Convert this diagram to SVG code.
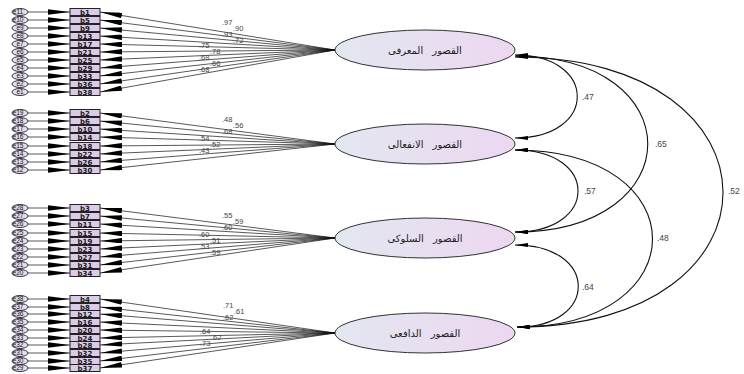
<svg xmlns="http://www.w3.org/2000/svg" width="744" height="374" viewBox="0 0 744 374">
  <style>
    .err ellipse { fill: #e5daf0; stroke: #222; stroke-width: 0.9; }
    .err text { font-family: "Liberation Sans", Arial, sans-serif; font-size: 6.5px; fill: #111; text-anchor: middle; }
    .item rect { fill: #dccbe8; stroke: #222; stroke-width: 1; }
    .item text { font-family: "DejaVu Sans", sans-serif; font-size: 7px; font-weight: bold; fill: #1a1a1a; text-anchor: middle; }
    .factor ellipse { fill: url(#fgrad); stroke: #333; stroke-width: 1; }
    .factor text { font-family: "DejaVu Sans", "Noto Sans", sans-serif; font-size: 10px; word-spacing: 6px; fill: #222; text-anchor: middle; }
    .ln { stroke: #111; stroke-width: 0.7; fill: none; }
    .arc { stroke: #111; stroke-width: 1.1; fill: none; marker-start: url(#head); marker-end: url(#head); }
    .w { font-family: "Liberation Sans", Arial, sans-serif; font-size: 7.5px; fill: #444; }
    .r { font-family: "Liberation Sans", Arial, sans-serif; font-size: 8.5px; fill: #444; }
  </style>
  <defs>
    <linearGradient id="fgrad" x1="0" y1="0" x2="1" y2="0">
      <stop offset="0" stop-color="#e3e7f0"/>
      <stop offset="1" stop-color="#ecd7f1"/>
    </linearGradient>
    <marker id="wedge" markerUnits="userSpaceOnUse" viewBox="0 0 22 5.5" markerWidth="22" markerHeight="5.5" refX="22" refY="2.75" orient="auto">
      <path d="M0,0 L22,2.75 L0,5.5 z" fill="#000"/>
    </marker>
    <marker id="head" markerUnits="userSpaceOnUse" viewBox="0 0 13 4" markerWidth="13" markerHeight="4" refX="13" refY="2" orient="auto-start-reverse">
      <path d="M0,0 L13,2 L0,4 z" fill="#000"/>
    </marker>
  </defs>

  <rect width="744" height="374" fill="#fff"/>

  <!-- connectors -->
  <g id="connectors">
    <!-- error to item -->
    <g class="ln" marker-end="url(#wedge)">
      <path d="M28,12 H70"/><path d="M28,20 H70"/><path d="M28,28 H70"/><path d="M28,36 H70"/>
      <path d="M28,44 H70"/><path d="M28,52 H70"/><path d="M28,60 H70"/><path d="M28,68 H70"/>
      <path d="M28,76 H70"/><path d="M28,84 H70"/><path d="M28,92 H70"/>
      <path d="M28,113 H70"/><path d="M28,121 H70"/><path d="M28,129 H70"/><path d="M28,137 H70"/>
      <path d="M28,146 H70"/><path d="M28,154 H70"/><path d="M28,162 H70"/><path d="M28,170 H70"/>
      <path d="M28,208 H70"/><path d="M28,216 H70"/><path d="M28,224 H70"/><path d="M28,233 H70"/>
      <path d="M28,241 H70"/><path d="M28,249 H70"/><path d="M28,257 H70"/><path d="M28,265 H70"/>
      <path d="M28,273 H70"/>
      <path d="M28,299 H70"/><path d="M28,307 H70"/><path d="M28,314 H70"/><path d="M28,322 H70"/>
      <path d="M28,330 H70"/><path d="M28,338 H70"/><path d="M28,345 H70"/><path d="M28,353 H70"/>
      <path d="M28,361 H70"/><path d="M28,368 H70"/>
    </g>
    <!-- factor loadings -->
    <g class="ln" marker-end="url(#wedge)">
      <path d="M335,50 L100,12"/><path d="M335,50 L100,20"/><path d="M335,50 L100,28"/><path d="M335,50 L100,36"/>
      <path d="M335,50 L100,44"/><path d="M335,50 L100,52"/><path d="M335,50 L100,60"/><path d="M335,50 L100,68"/>
      <path d="M335,50 L100,76"/><path d="M335,50 L100,84"/><path d="M335,50 L100,92"/>
      <path d="M335,144 L100,113"/><path d="M335,144 L100,121"/><path d="M335,144 L100,129"/><path d="M335,144 L100,137"/>
      <path d="M335,144 L100,146"/><path d="M335,144 L100,154"/><path d="M335,144 L100,162"/><path d="M335,144 L100,170"/>
      <path d="M335,238 L100,208"/><path d="M335,238 L100,216"/><path d="M335,238 L100,224"/><path d="M335,238 L100,233"/>
      <path d="M335,238 L100,241"/><path d="M335,238 L100,249"/><path d="M335,238 L100,257"/><path d="M335,238 L100,265"/>
      <path d="M335,238 L100,273"/>
      <path d="M335,333 L100,299"/><path d="M335,333 L100,307"/><path d="M335,333 L100,314"/><path d="M335,333 L100,322"/>
      <path d="M335,333 L100,330"/><path d="M335,333 L100,338"/><path d="M335,333 L100,345"/><path d="M335,333 L100,353"/>
      <path d="M335,333 L100,361"/><path d="M335,333 L100,368"/>
    </g>
    <!-- loading values, staggered so neighbours stay readable -->
    <g class="w">
      <text x="222" y="25">.97</text><text x="233" y="31">.90</text><text x="222" y="37">.93</text><text x="233" y="43">.72</text>
      <text x="199" y="48">.75</text><text x="210" y="54">.78</text><text x="199" y="60">.68</text><text x="210" y="66">.66</text><text x="199" y="72">.68</text>
      <text x="222" y="122">.48</text><text x="233" y="128">.56</text><text x="222" y="134">.68</text>
      <text x="199" y="141">.54</text><text x="210" y="147">.52</text><text x="199" y="153">.43</text>
      <text x="222" y="218">.55</text><text x="233" y="224">.59</text><text x="222" y="230">.60</text>
      <text x="199" y="237">.60</text><text x="210" y="243">.51</text><text x="199" y="249">.53</text><text x="210" y="255">.59</text>
      <text x="223" y="308">.71</text><text x="234" y="314">.61</text><text x="223" y="320">.62</text>
      <text x="200" y="334">.64</text><text x="211" y="340">.62</text><text x="200" y="346">.73</text>
    </g>
    <!-- factor covariances -->
    <path class="arc" d="M515,55 C598,55 598,138 515,138"/>
    <path class="arc" d="M515,56 C692,56 692,232 515,232"/>
    <path class="arc" d="M515,57 C792,57 792,327 517,327"/>
    <path class="arc" d="M515,150 C599,150 599,232 515,232"/>
    <path class="arc" d="M515,150 C698,150 698,327 517,327"/>
    <path class="arc" d="M515,245 C599,245 599,327 517,327"/>
    <g class="r">
      <text x="582" y="100">.47</text>
      <text x="655" y="147">.65</text>
      <text x="728" y="194">.52</text>
      <text x="584" y="194">.57</text>
      <text x="657" y="241">.48</text>
      <text x="582" y="290">.64</text>
    </g>
  </g>

  <!-- latent factors -->
  <g id="f1" class="factor"><ellipse cx="425" cy="50" rx="90" ry="20"/><text x="425" y="53.5">القصور المعرفى</text></g>
  <g id="f2" class="factor"><ellipse cx="425" cy="144" rx="90" ry="20"/><text x="425" y="147.5">القصور الانفعالى</text></g>
  <g id="f3" class="factor"><ellipse cx="425" cy="238" rx="90" ry="20"/><text x="425" y="241.5">القصور السلوكى</text></g>
  <g id="f4" class="factor"><ellipse cx="425" cy="333" rx="90" ry="20"/><text x="425" y="336.5">القصور الدافعى</text></g>

  <!-- observed items -->
  <g id="b1" class="item"><rect x="70" y="8.5" width="30" height="7"/><text x="85" y="14.5">b1</text></g>
  <g id="b5" class="item"><rect x="70" y="16.5" width="30" height="7"/><text x="85" y="22.5">b5</text></g>
  <g id="b9" class="item"><rect x="70" y="24.5" width="30" height="7"/><text x="85" y="30.5">b9</text></g>
  <g id="b13" class="item"><rect x="70" y="32.5" width="30" height="7"/><text x="85" y="38.5">b13</text></g>
  <g id="b17" class="item"><rect x="70" y="40.5" width="30" height="7"/><text x="85" y="46.5">b17</text></g>
  <g id="b21" class="item"><rect x="70" y="48.5" width="30" height="7"/><text x="85" y="54.5">b21</text></g>
  <g id="b25" class="item"><rect x="70" y="56.5" width="30" height="7"/><text x="85" y="62.5">b25</text></g>
  <g id="b29" class="item"><rect x="70" y="64.5" width="30" height="7"/><text x="85" y="70.5">b29</text></g>
  <g id="b33" class="item"><rect x="70" y="72.5" width="30" height="7"/><text x="85" y="78.5">b33</text></g>
  <g id="b36" class="item"><rect x="70" y="80.5" width="30" height="7"/><text x="85" y="86.5">b36</text></g>
  <g id="b38" class="item"><rect x="70" y="88.5" width="30" height="7"/><text x="85" y="94.5">b38</text></g>

  <g id="b2" class="item"><rect x="70" y="109.5" width="30" height="7"/><text x="85" y="115.5">b2</text></g>
  <g id="b6" class="item"><rect x="70" y="117.5" width="30" height="7"/><text x="85" y="123.5">b6</text></g>
  <g id="b10" class="item"><rect x="70" y="125.5" width="30" height="7"/><text x="85" y="131.5">b10</text></g>
  <g id="b14" class="item"><rect x="70" y="133.5" width="30" height="7"/><text x="85" y="139.5">b14</text></g>
  <g id="b18" class="item"><rect x="70" y="142.5" width="30" height="7"/><text x="85" y="148.5">b18</text></g>
  <g id="b22" class="item"><rect x="70" y="150.5" width="30" height="7"/><text x="85" y="156.5">b22</text></g>
  <g id="b26" class="item"><rect x="70" y="158.5" width="30" height="7"/><text x="85" y="164.5">b26</text></g>
  <g id="b30" class="item"><rect x="70" y="166.5" width="30" height="7"/><text x="85" y="172.5">b30</text></g>

  <g id="b3" class="item"><rect x="70" y="204.5" width="30" height="7"/><text x="85" y="210.5">b3</text></g>
  <g id="b7" class="item"><rect x="70" y="212.5" width="30" height="7"/><text x="85" y="218.5">b7</text></g>
  <g id="b11" class="item"><rect x="70" y="220.5" width="30" height="7"/><text x="85" y="226.5">b11</text></g>
  <g id="b15" class="item"><rect x="70" y="229.5" width="30" height="7"/><text x="85" y="235.5">b15</text></g>
  <g id="b19" class="item"><rect x="70" y="237.5" width="30" height="7"/><text x="85" y="243.5">b19</text></g>
  <g id="b23" class="item"><rect x="70" y="245.5" width="30" height="7"/><text x="85" y="251.5">b23</text></g>
  <g id="b27" class="item"><rect x="70" y="253.5" width="30" height="7"/><text x="85" y="259.5">b27</text></g>
  <g id="b31" class="item"><rect x="70" y="261.5" width="30" height="7"/><text x="85" y="267.5">b31</text></g>
  <g id="b34" class="item"><rect x="70" y="269.5" width="30" height="7"/><text x="85" y="275.5">b34</text></g>

  <g id="b4" class="item"><rect x="70" y="295.5" width="30" height="7"/><text x="85" y="301.5">b4</text></g>
  <g id="b8" class="item"><rect x="70" y="303.5" width="30" height="7"/><text x="85" y="309.5">b8</text></g>
  <g id="b12" class="item"><rect x="70" y="310.5" width="30" height="7"/><text x="85" y="316.5">b12</text></g>
  <g id="b16" class="item"><rect x="70" y="318.5" width="30" height="7"/><text x="85" y="324.5">b16</text></g>
  <g id="b20" class="item"><rect x="70" y="326.5" width="30" height="7"/><text x="85" y="332.5">b20</text></g>
  <g id="b24" class="item"><rect x="70" y="334.5" width="30" height="7"/><text x="85" y="340.5">b24</text></g>
  <g id="b28" class="item"><rect x="70" y="341.5" width="30" height="7"/><text x="85" y="347.5">b28</text></g>
  <g id="b32" class="item"><rect x="70" y="349.5" width="30" height="7"/><text x="85" y="355.5">b32</text></g>
  <g id="b35" class="item"><rect x="70" y="357.5" width="30" height="7"/><text x="85" y="363.5">b35</text></g>
  <g id="b37" class="item"><rect x="70" y="364.5" width="30" height="7"/><text x="85" y="370.5">b37</text></g>

  <!-- error terms -->
  <g id="e11" class="err"><ellipse cx="20" cy="12" rx="8" ry="3.5"/><text x="18" y="14.3">e11</text></g>
  <g id="e10" class="err"><ellipse cx="20" cy="20" rx="8" ry="3.5"/><text x="18" y="22.3">e10</text></g>
  <g id="e9" class="err"><ellipse cx="20" cy="28" rx="8" ry="3.5"/><text x="20" y="30.3">e9</text></g>
  <g id="e8" class="err"><ellipse cx="20" cy="36" rx="8" ry="3.5"/><text x="20" y="38.3">e8</text></g>
  <g id="e7" class="err"><ellipse cx="20" cy="44" rx="8" ry="3.5"/><text x="20" y="46.3">e7</text></g>
  <g id="e6" class="err"><ellipse cx="20" cy="52" rx="8" ry="3.5"/><text x="20" y="54.3">e6</text></g>
  <g id="e5" class="err"><ellipse cx="20" cy="60" rx="8" ry="3.5"/><text x="20" y="62.3">e5</text></g>
  <g id="e4" class="err"><ellipse cx="20" cy="68" rx="8" ry="3.5"/><text x="20" y="70.3">e4</text></g>
  <g id="e3" class="err"><ellipse cx="20" cy="76" rx="8" ry="3.5"/><text x="20" y="78.3">e3</text></g>
  <g id="e2" class="err"><ellipse cx="20" cy="84" rx="8" ry="3.5"/><text x="20" y="86.3">e2</text></g>
  <g id="e1" class="err"><ellipse cx="20" cy="92" rx="8" ry="3.5"/><text x="20" y="94.3">e1</text></g>

  <g id="e19" class="err"><ellipse cx="20" cy="113" rx="8" ry="3.5"/><text x="18" y="115.3">e19</text></g>
  <g id="e18" class="err"><ellipse cx="20" cy="121" rx="8" ry="3.5"/><text x="18" y="123.3">e18</text></g>
  <g id="e17" class="err"><ellipse cx="20" cy="129" rx="8" ry="3.5"/><text x="18" y="131.3">e17</text></g>
  <g id="e16" class="err"><ellipse cx="20" cy="137" rx="8" ry="3.5"/><text x="18" y="139.3">e16</text></g>
  <g id="e15" class="err"><ellipse cx="20" cy="146" rx="8" ry="3.5"/><text x="18" y="148.3">e15</text></g>
  <g id="e14" class="err"><ellipse cx="20" cy="154" rx="8" ry="3.5"/><text x="18" y="156.3">e14</text></g>
  <g id="e13" class="err"><ellipse cx="20" cy="162" rx="8" ry="3.5"/><text x="18" y="164.3">e13</text></g>
  <g id="e12" class="err"><ellipse cx="20" cy="170" rx="8" ry="3.5"/><text x="18" y="172.3">e12</text></g>

  <g id="e28" class="err"><ellipse cx="20" cy="208" rx="8" ry="3.5"/><text x="18" y="210.3">e28</text></g>
  <g id="e27" class="err"><ellipse cx="20" cy="216" rx="8" ry="3.5"/><text x="18" y="218.3">e27</text></g>
  <g id="e26" class="err"><ellipse cx="20" cy="224" rx="8" ry="3.5"/><text x="18" y="226.3">e26</text></g>
  <g id="e25" class="err"><ellipse cx="20" cy="233" rx="8" ry="3.5"/><text x="18" y="235.3">e25</text></g>
  <g id="e24" class="err"><ellipse cx="20" cy="241" rx="8" ry="3.5"/><text x="18" y="243.3">e24</text></g>
  <g id="e23" class="err"><ellipse cx="20" cy="249" rx="8" ry="3.5"/><text x="18" y="251.3">e23</text></g>
  <g id="e22" class="err"><ellipse cx="20" cy="257" rx="8" ry="3.5"/><text x="18" y="259.3">e22</text></g>
  <g id="e21" class="err"><ellipse cx="20" cy="265" rx="8" ry="3.5"/><text x="18" y="267.3">e21</text></g>
  <g id="e20" class="err"><ellipse cx="20" cy="273" rx="8" ry="3.5"/><text x="18" y="275.3">e20</text></g>

  <g id="e38" class="err"><ellipse cx="20" cy="299" rx="8" ry="3.5"/><text x="18" y="301.3">e38</text></g>
  <g id="e37" class="err"><ellipse cx="20" cy="307" rx="8" ry="3.5"/><text x="18" y="309.3">e37</text></g>
  <g id="e36" class="err"><ellipse cx="20" cy="314" rx="8" ry="3.5"/><text x="18" y="316.3">e36</text></g>
  <g id="e35" class="err"><ellipse cx="20" cy="322" rx="8" ry="3.5"/><text x="18" y="324.3">e35</text></g>
  <g id="e34" class="err"><ellipse cx="20" cy="330" rx="8" ry="3.5"/><text x="18" y="332.3">e34</text></g>
  <g id="e33" class="err"><ellipse cx="20" cy="338" rx="8" ry="3.5"/><text x="18" y="340.3">e33</text></g>
  <g id="e32" class="err"><ellipse cx="20" cy="345" rx="8" ry="3.5"/><text x="18" y="347.3">e32</text></g>
  <g id="e31" class="err"><ellipse cx="20" cy="353" rx="8" ry="3.5"/><text x="18" y="355.3">e31</text></g>
  <g id="e30" class="err"><ellipse cx="20" cy="361" rx="8" ry="3.5"/><text x="18" y="363.3">e30</text></g>
  <g id="e29" class="err"><ellipse cx="20" cy="368" rx="8" ry="3.5"/><text x="18" y="370.3">e29</text></g>
</svg>
